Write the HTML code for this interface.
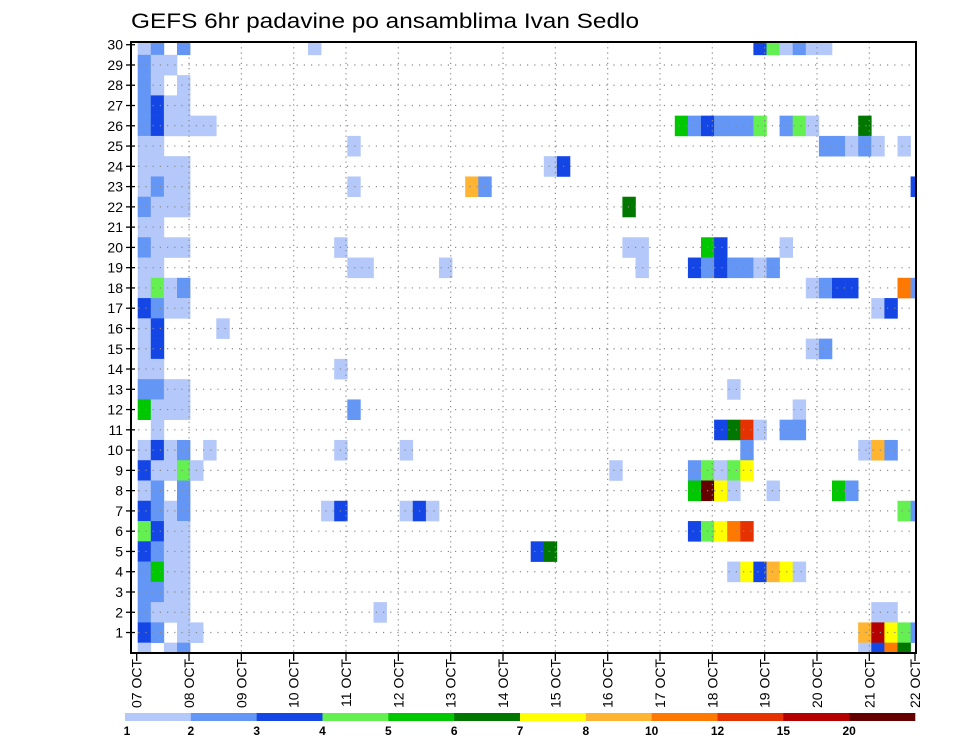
<!DOCTYPE html>
<html><head><meta charset="utf-8"><style>
html,body{margin:0;padding:0;background:#fff;}
svg{display:block;font-family:"Liberation Sans",sans-serif;}
</style></head><body>
<svg id="chart" width="960" height="742" viewBox="0 0 960 742" xmlns="http://www.w3.org/2000/svg">
<text x="131" y="28" font-size="21" textLength="508" lengthAdjust="spacingAndGlyphs" fill="#000">GEFS 6hr padavine po ansamblima Ivan Sedlo</text>
<defs><clipPath id="plotclip"><rect x="131" y="42" width="785" height="611"/></clipPath></defs>
<g id="cells" clip-path="url(#plotclip)"></g>
<g id="grid"></g>
<rect x="131" y="42" width="785" height="611" fill="none" stroke="#000" stroke-width="2"/>
<g id="yaxis"></g>
<g id="xaxis"></g>
<g id="colorbar"></g>
</svg>
<script>
// member rows (30 .. 0), each "col:level" for 6-hourly steps (col 0..59)
const members = [30,29,28,27,26,25,24,23,22,21,20,19,18,17,16,15,14,13,12,11,10,9,8,7,6,5,4,3,2,1,0];
const memberCells = [
"0:1,1:2,3:2,13:1,47:3,48:4,49:1,50:2,51:1,52:1",
"0:2,1:1,2:1",
"0:2,1:1,3:1",
"0:2,1:3,2:1,3:1",
"0:2,1:3,2:1,3:1,4:1,5:1,41:5,42:2,43:3,44:2,45:2,46:2,47:4,49:2,50:4,51:1,55:6",
"0:1,1:1,16:1,52:2,53:2,54:1,55:2,56:1,58:1",
"0:1,1:1,2:1,3:1,31:1,32:3",
"0:1,1:2,2:1,3:1,16:1,25:8,26:2,59:3",
"0:2,1:1,2:1,3:1,37:6",
"0:1,1:1",
"0:2,1:1,2:1,3:1,15:1,37:1,38:1,43:5,44:3,49:1",
"0:1,1:1,16:1,17:1,23:1,38:1,42:3,43:2,44:3,45:2,46:2,47:1,48:2",
"0:1,1:4,2:1,3:2,51:1,52:2,53:3,54:3,58:9,59:2",
"0:3,1:2,2:1,3:1,56:1,57:3",
"0:1,1:3,6:1",
"0:1,1:3,51:1,52:2",
"0:1,1:1,15:1",
"0:2,1:2,2:1,3:1,45:1",
"0:5,1:1,2:1,3:1,16:2,50:1",
"1:1,44:3,45:6,46:10,47:1,49:2,50:2",
"0:1,1:3,2:1,3:2,5:1,15:1,20:1,46:2,55:1,56:8,57:2",
"0:3,1:1,2:1,3:4,4:1,36:1,42:2,43:4,44:1,45:4,46:7",
"0:1,1:2,3:2,42:5,43:12,44:7,45:1,48:1,53:5,54:2",
"0:3,1:2,2:1,3:2,14:1,15:3,20:1,21:3,22:1,58:4,59:2",
"0:4,1:3,2:1,3:1,42:3,43:4,44:7,45:9,46:10",
"0:3,1:2,2:1,3:1,30:3,31:6",
"0:2,1:5,2:1,3:1,45:1,46:7,47:3,48:8,49:7,50:1",
"0:2,1:2,2:1,3:1",
"0:2,1:1,2:1,3:1,18:1,56:1,57:1",
"0:3,1:2,3:1,4:1,55:8,56:11,57:7,58:4,59:2",
"0:1,2:1,3:2,55:1,56:3,57:9,58:6"
];
const dayLabels = ["07 OCT","08 OCT","09 OCT","10 OCT","11 OCT","12 OCT","13 OCT","14 OCT","15 OCT","16 OCT","17 OCT","18 OCT","19 OCT","20 OCT","21 OCT","22 OCT"];
const levelLabels = ["1","2","3","4","5","6","7","8","10","12","15","20"];
const levelColors = ["#b4c8fa","#6496f5","#1446e6","#64f050","#00c800","#007800","#ffff00","#ffb432","#ff7800","#e63200","#b40000","#640000"];

const NS="http://www.w3.org/2000/svg";
function mk(tag, attrs, parent){const e=document.createElementNS(NS,tag);for(const k in attrs)e.setAttribute(k,attrs[k]);parent.appendChild(e);return e;}
const yOf = m => 44.7 + (30-m)*20.27;
const rowH = 20.27;
const colX = c => 137.7 + c*13.1;
const colW = 13.1;
const dayX = d => 136.7 + d*52.33;

const gCells=document.getElementById('cells');
members.forEach((m,i)=>{
  memberCells[i].split(',').forEach(s=>{
    const p=s.split(':');const c=+p[0], lv=+p[1];
    const r=mk('rect',{x:colX(c).toFixed(2),y:(yOf(m)-rowH/2).toFixed(2),width:colW+0.3,height:rowH+0.3,fill:levelColors[lv-1]},gCells);
    
    
  });
});

const gGrid=document.getElementById('grid');
members.forEach(m=>{
  if(m===0||m===30)return;
  const l=mk('line',{x1:131,x2:916,y1:yOf(m),y2:yOf(m),stroke:'#8a8a8a','stroke-width':1.2,'stroke-dasharray':'1.2,6'},gGrid);
  
  
});
for(let d=1;d<15;d++){
  const l=mk('line',{x1:dayX(d),x2:dayX(d),y1:42,y2:653,stroke:'#8a8a8a','stroke-width':1.2,'stroke-dasharray':'1.2,4'},gGrid);
  
  
}

const gY=document.getElementById('yaxis');
members.forEach(m=>{
  if(m===0)return;
  const t=mk('line',{x1:126,x2:135,y1:yOf(m),y2:yOf(m),stroke:'#000','stroke-width':1.3},gY);
  
  
  const tx=mk('text',{x:123,y:yOf(m)+5,'font-size':14,'text-anchor':'end',fill:'#000'},gY);
  tx.textContent=String(m);
  
  
});

const gX=document.getElementById('xaxis');
dayLabels.forEach((lab,d)=>{
  const x=Math.min(dayX(d),915);
  const t=mk('line',{x1:x,x2:x,y1:653,y2:661,stroke:'#000','stroke-width':1.3},gX);
  
  
  const tx=mk('text',{x:0,y:0,'font-size':14,'text-anchor':'end',fill:'#000',transform:'translate('+(x+5)+',659) rotate(-90)'},gX);
  tx.textContent=lab;
  
  
});

const gC=document.getElementById('colorbar');
const cbX0=125, cbW=790/levelColors.length;
levelColors.forEach((col,i)=>{
  const r=mk('rect',{x:cbX0+i*cbW,y:713,width:cbW+0.3,height:8,fill:col},gC);
  
  
});
levelLabels.forEach((lab,i)=>{
  const tx=mk('text',{x:cbX0+i*cbW+(i===0?2:0),y:735,'font-size':12,'font-weight':'bold','text-anchor':'middle',fill:'#000'},gC);
  tx.textContent=lab;
  
  
});
</script>
</body></html>
